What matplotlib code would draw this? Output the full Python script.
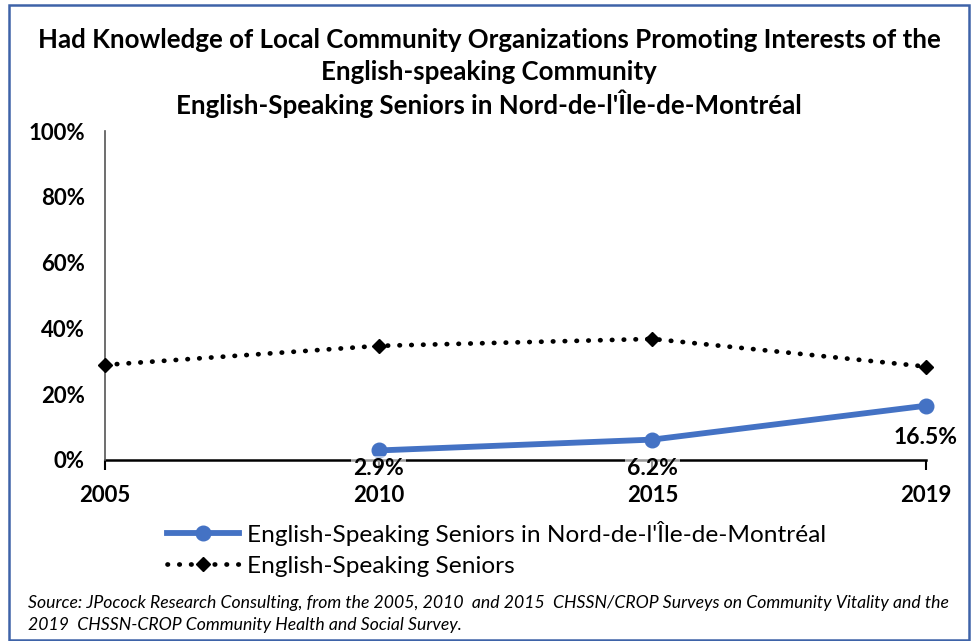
import matplotlib
matplotlib.use("Agg")
import matplotlib.pyplot as plt
from matplotlib.patches import Rectangle
from matplotlib.lines import Line2D

plt.rcParams['font.family'] = ['Lato', 'DejaVu Sans']

years = ["2005", "2010", "2015", "2019"]
nord_values = [None, 2.9, 6.2, 16.5]
all_seniors = [28.9, 34.7, 36.8, 28.4]
y_ticks = [0, 20, 40, 60, 80, 100]
nord_label = "English-Speaking Seniors in Nord-de-l'Île-de-Montréal"
all_label = "English-Speaking Seniors"
title_lines = [
    "Had Knowledge of Local Community Organizations Promoting Interests of the",
    "English-speaking Community",
    "English-Speaking Seniors in Nord-de-l'Île-de-Montréal",
]
source_lines = [
    "Source: JPocock Research Consulting, from the 2005, 2010  and 2015  CHSSN/CROP Surveys on Community Vitality and the",
    "2019  CHSSN-CROP Community Health and Social Survey.",
]

W, H = 978, 641
fig = plt.figure(figsize=(W / 100, H / 100), dpi=100)
fig.patch.set_facecolor("white")
renderer = fig.canvas.get_renderer()


def fit_size(text, width_px, **kw):
    """Font size at which `text` spans width_px pixels."""
    t = fig.text(0, 0, text, fontsize=10, **kw)
    w = t.get_window_extent(renderer).width
    t.remove()
    return 10 * width_px / w


title_fs = fit_size(title_lines[0], 902, fontweight="bold")
source_fs = fit_size(source_lines[0], 917, fontstyle="italic")
legend_fs = fit_size(nord_label, 579)
tick_fs = 16
val_fs = 16.5

DOT = (0, (0.1, 2.4))

# outer frame
fig.add_artist(Rectangle((9 / W, 1 - 640 / H), 960 / W, 635 / H, transform=fig.transFigure,
                         fill=False, edgecolor="#3E63A8", linewidth=1.8))

ax = fig.add_axes([105 / W, 1 - 460 / H, 821 / W, 329 / H])
x = list(range(len(years)))

ax.plot(x, all_seniors, color="black", linestyle=DOT, linewidth=3.4,
        dash_capstyle="round", marker="D", markersize=7.5, zorder=3)

nx = [i for i, v in zip(x, nord_values) if v is not None]
ny = [v for v in nord_values if v is not None]
ax.plot(nx, ny, color="#4472C4", linewidth=4.2, marker="o", markersize=10.5,
        solid_capstyle="round", zorder=4)

ax.set_xlim(0, len(years) - 1)
ax.set_ylim(0, 100)
ax.set_yticks(y_ticks, labels=[f"{v}%" for v in y_ticks],
              fontsize=tick_fs, fontweight="bold")
ax.set_xticks(x, labels=years, fontsize=tick_fs, fontweight="bold")
ax.tick_params(axis="y", length=0, pad=14.5)
ax.tick_params(axis="x", length=7, width=1.5, color="black", pad=11, direction="out")

for side in ("top", "right"):
    ax.spines[side].set_visible(False)
ax.spines["left"].set_color("#555555")
ax.spines["left"].set_linewidth(1.2)
ax.spines["bottom"].set_color("black")
ax.spines["bottom"].set_linewidth(1.8)
ax.spines["bottom"].set_zorder(2)
for ln in ax.lines:
    ln.set_clip_on(False)

# value labels
for i, v in zip(nx, ny):
    if i == len(years) - 1:
        ax.annotate(f"{v:.1f}%", (i, v), xytext=(0, -23), textcoords="offset points",
                    ha="center", va="center", fontsize=val_fs, fontweight="bold", zorder=5,
                    bbox=dict(boxstyle="square,pad=0.1", fc="white", ec="none", alpha=0.6))
    else:
        ax.annotate(f"{v:.1f}%", (i, 0), xytext=(0, -6), textcoords="offset points",
                    ha="center", va="center", fontsize=val_fs, fontweight="bold", zorder=5,
                    bbox=dict(boxstyle="square,pad=0.1", fc="white", ec="none", alpha=0.6))

# title
for k, line in enumerate(title_lines):
    fig.text(489 / W, 1 - (40 + 32 * k) / H, line, ha="center", va="center",
             fontsize=title_fs, fontweight="bold")

# legend
handles = [
    Line2D([], [], color="#4472C4", linewidth=4.2, marker="o", markersize=10.5),
    Line2D([], [], color="black", linestyle=DOT, linewidth=3.4,
           dash_capstyle="round", marker="D", markersize=7.5),
]
fig.legend(handles, [nord_label, all_label], loc="upper left",
           bbox_to_anchor=(157 / W, 1 - 511 / H), frameon=False, fontsize=legend_fs,
           handlelength=2.95, handletextpad=0.33, labelspacing=0.4, borderaxespad=0)

for k, line in enumerate(source_lines):
    fig.text(28 / W, 1 - (603 + 22 * k) / H, line, ha="left", va="center",
             fontsize=source_fs, fontstyle="italic")

fig.savefig("out.png", dpi=100)
